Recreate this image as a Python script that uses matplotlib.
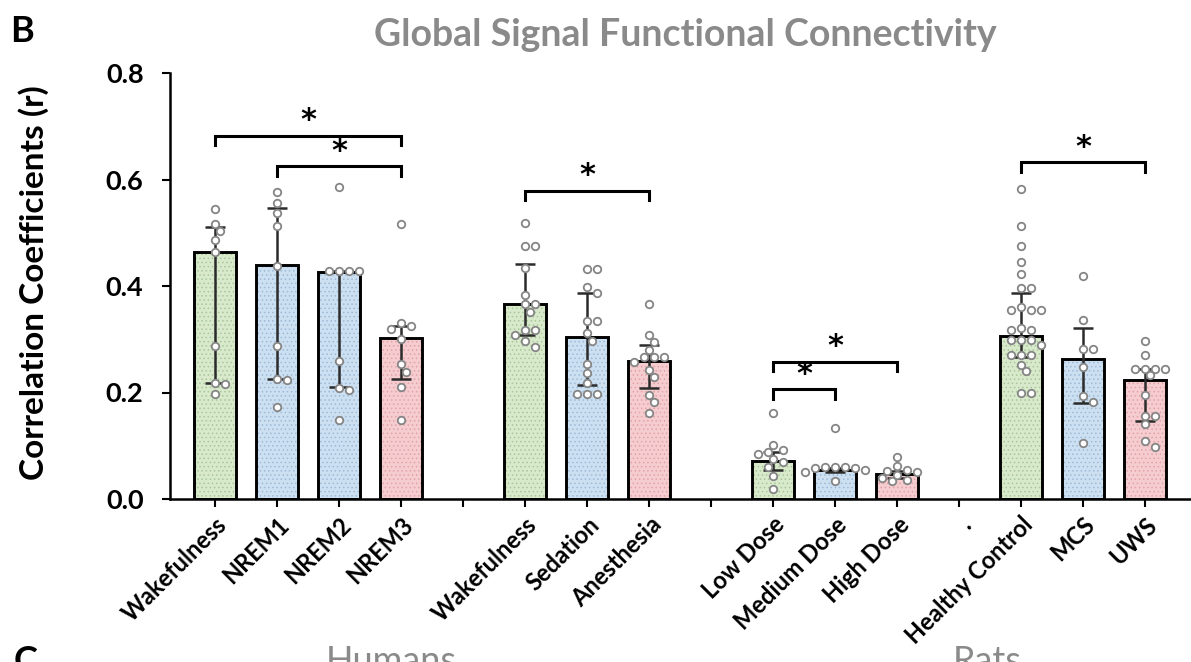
import matplotlib
matplotlib.use("Agg")
import matplotlib.pyplot as plt
import numpy as np

plt.rcParams['font.family'] = ['Lato', 'DejaVu Sans']
plt.rcParams['hatch.linewidth'] = 0.6

# ---- categories (16 slots, slots 4, 8, 12 are spacers) ----
tick_labels = ["Wakefulness", "NREM1", "NREM2", "NREM3", "",
               "Wakefulness", "Sedation", "Anesthesia", "",
               "Low Dose", "Medium Dose", "High Dose", ".",
               "Healthy Control", "MCS", "UWS"]
bar_pos = [0, 1, 2, 3, 5, 6, 7, 9, 10, 11, 13, 14, 15]
bar_kind = ["base", "alt", "alt", "low", "base", "alt", "low",
            "base", "alt", "low", "base", "alt", "low"]

# ---- bar heights and error bar ends ----
bar_vals = [0.464, 0.439, 0.427, 0.302,
            0.367, 0.305, 0.260,
            0.071, 0.054, 0.047,
            0.306, 0.262, 0.223]
err_lo = [0.218, 0.225, 0.211, 0.225,
          0.308, 0.215, 0.208,
          0.054, 0.050, 0.039,
          0.267, 0.181, 0.147]
err_hi = [0.511, 0.547, 0.428, 0.325,
          0.441, 0.387, 0.289,
          0.089, 0.058, 0.053,
          0.386, 0.322, 0.245]

# ---- individual subjects ----
wake_sleep = [0.544, 0.516, 0.504, 0.486, 0.464, 0.287, 0.218, 0.216, 0.198]
nrem1 = [0.577, 0.556, 0.538, 0.513, 0.438, 0.287, 0.225, 0.224, 0.173]
nrem2 = [0.585, 0.428, 0.428, 0.428, 0.428, 0.259, 0.208, 0.205, 0.148]
nrem3 = [0.516, 0.330, 0.325, 0.320, 0.300, 0.254, 0.239, 0.211, 0.148]
wake_anes = [0.519, 0.475, 0.475, 0.433, 0.383, 0.367, 0.367, 0.352,
             0.317, 0.317, 0.308, 0.297, 0.286]
sedation = [0.431, 0.431, 0.398, 0.387, 0.335, 0.335, 0.312, 0.297,
            0.253, 0.237, 0.218, 0.198, 0.198, 0.198]
anesthesia = [0.366, 0.308, 0.295, 0.280, 0.267, 0.267, 0.267, 0.258,
              0.242, 0.230, 0.195, 0.183, 0.161]
low_dose = [0.162, 0.101, 0.092, 0.088, 0.085, 0.075, 0.070, 0.061, 0.043, 0.018]
medium_dose = [0.134, 0.061, 0.061, 0.060, 0.059, 0.058, 0.055, 0.051, 0.033]
high_dose = [0.078, 0.062, 0.055, 0.052, 0.050, 0.046, 0.040, 0.035, 0.033]
healthy = [0.583, 0.513, 0.475, 0.445, 0.423, 0.396, 0.396, 0.361, 0.355,
           0.355, 0.355, 0.322, 0.317, 0.317, 0.299, 0.299, 0.299, 0.290,
           0.270, 0.270, 0.270, 0.252, 0.240, 0.200, 0.200]
mcs = [0.419, 0.337, 0.281, 0.281, 0.248, 0.193, 0.182, 0.106]
uws = [0.297, 0.270, 0.245, 0.245, 0.245, 0.245, 0.232, 0.195, 0.156,
       0.156, 0.140, 0.108, 0.098]
subjects = [wake_sleep, nrem1, nrem2, nrem3, wake_anes, sedation, anesthesia,
            low_dose, medium_dose, high_dose, healthy, mcs, uws]

# ---- significance brackets: (left slot, right slot, height) ----
brackets = [(0, 3, 0.682), (1, 3, 0.625), (5, 7, 0.579),
            (9, 11, 0.258), (9, 10, 0.206), (13, 15, 0.632)]

fill = {"base": "#d8eacb", "alt": "#cde0f2", "low": "#f5cccf"}
dots = {"base": "#a9c79a", "alt": "#9dbbd8", "low": "#e3a3a7"}

W, H, DPI = 1191, 662, 100
fig = plt.figure(figsize=(W / DPI, H / DPI), dpi=DPI)
ax_l, ax_r, ax_b, ax_t = 170, 1191, 499, 73
ax = fig.add_axes([ax_l / W, (H - ax_b) / H, (ax_r - ax_l) / W, (ax_b - ax_t) / H])
xlo, xhi = -0.73, 15.74
ax.set_xlim(xlo, xhi)
ax.set_ylim(0, 0.8)

# bars: pale fill with a fine dot texture, black outline
ax.bar(bar_pos, bar_vals, width=0.68, color=[fill[k] for k in bar_kind],
       edgecolor="none", zorder=1)
ax.bar(bar_pos, bar_vals, width=0.68, facecolor="none",
       edgecolor=[dots[k] for k in bar_kind], hatch="....", linewidth=0, zorder=1.5)
ax.bar(bar_pos, bar_vals, width=0.68, facecolor="none", edgecolor="black",
       linewidth=2.1, zorder=2)

# error bars
yerr = np.array([np.array(bar_vals) - np.array(err_lo),
                 np.array(err_hi) - np.array(bar_vals)])
ax.errorbar(bar_pos, bar_vals, yerr=yerr, fmt="none", ecolor="#2b2b2b",
            elinewidth=1.8, capsize=7, capthick=1.8, zorder=3)

# scatter of individual values, spread sideways where they would overlap
px_x = (ax_r - ax_l) / (xhi - xlo)
px_y = (ax_b - ax_t) / 0.8
diam = 8.0
for pos, vals in zip(bar_pos, subjects):
    placed = []
    for v in sorted(vals, reverse=True):
        k = 0
        while True:
            step = (k + 1) // 2
            sign = 1 if k % 2 else -1
            ox = sign * step * diam * 0.62
            if all(np.hypot(ox - qx, (v - qv) * px_y) >= diam for qx, qv in placed):
                placed.append((ox, v))
                break
            k += 1
    xs = [pos + qx / px_x for qx, _ in placed]
    ys = [qv for _, qv in placed]
    ax.plot(xs, ys, "o", ms=5.4, mfc="white", mec="#858585", mew=1.3,
            linestyle="none", zorder=4)

# significance brackets with stars
drop = 0.018
for i, j, y in brackets:
    ax.plot([i, i, j, j], [y - drop, y, y, y - drop], color="black",
            lw=2.2, solid_joinstyle="miter", zorder=5, clip_on=False)
    ax.text((i + j) / 2, y + 0.028, "*", ha="center", va="center",
            fontsize=22, fontweight="bold", family="DejaVu Sans", zorder=5)

# axes styling
for s in ["top", "right"]:
    ax.spines[s].set_visible(False)
for s in ["left", "bottom"]:
    ax.spines[s].set_linewidth(1.8)
ax.set_yticks([0.0, 0.2, 0.4, 0.6, 0.8])
ax.set_yticklabels(["0.0", "0.2", "0.4", "0.6", "0.8"], fontsize=19.5, fontweight="bold")
ax.set_xticks(range(len(tick_labels)))
ax.set_xticklabels(tick_labels, rotation=45, ha="right", va="top",
                   rotation_mode="anchor", fontsize=17, fontweight="bold")
ax.tick_params(axis="y", direction="out", length=6, width=1.5, pad=13)
ax.tick_params(axis="x", direction="out", length=6, width=1.5, pad=4)

# panel texts
fig.text(34 / W, 1 - 283 / H, "Correlation Coefficients (r)", rotation=90,
         fontsize=24, fontweight="bold", ha="center", va="center")
fig.text(10 / W, 1 - 32 / H, "B", fontsize=26, fontweight="bold", va="center", ha="left")
fig.text(685 / W, 1 - 35 / H, "Global Signal Functional Connectivity", fontsize=27,
         fontweight="bold", color="#8a8a8a", ha="center", va="center")
fig.text(14 / W, 1 - 645 / H, "C", fontsize=26, fontweight="bold", va="top", ha="left")
fig.text(391 / W, 1 - 645 / H, "Humans", fontsize=26, color="#8a8a8a", va="top", ha="center")
fig.text(987 / W, 1 - 645 / H, "Rats", fontsize=26, color="#8a8a8a", va="top", ha="center")

fig.savefig("out.png", dpi=DPI)
